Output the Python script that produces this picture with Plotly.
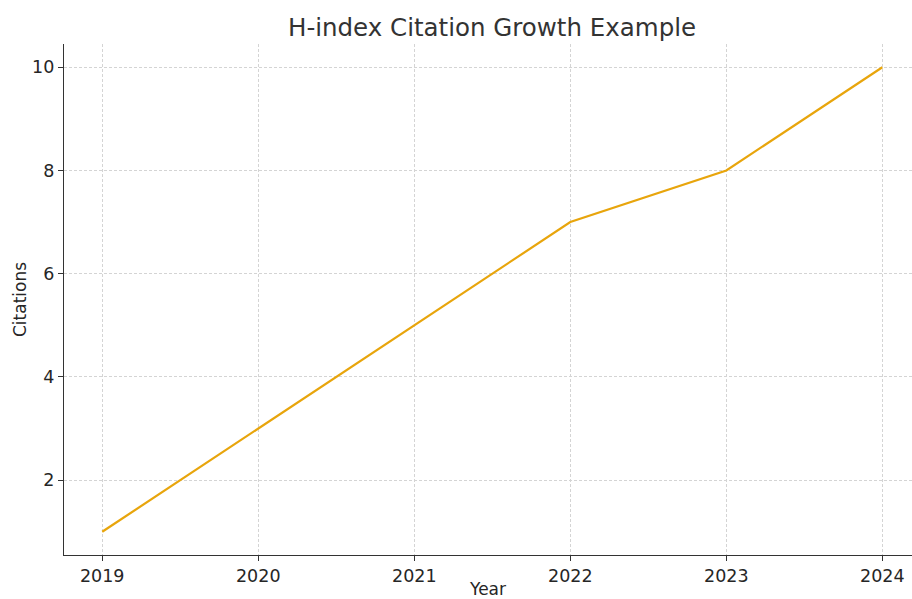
import plotly.graph_objects as go

years = [2019, 2020, 2021, 2022, 2023, 2024]
citations = [1, 3, 5, 7, 8, 10]
y_ticks = [2, 4, 6, 8, 10]

fig = go.Figure()
fig.add_trace(go.Scatter(x=years, y=citations, mode="lines",
                         line=dict(color="#E8A50C", width=2.2)))

font_family = "DejaVu Sans"
fig.update_layout(
    width=912, height=599,
    margin=dict(l=64, r=0, t=44, b=44),
    paper_bgcolor="white", plot_bgcolor="white",
    showlegend=False,
    title=dict(text="H-index Citation Growth Example", x=0.5395, xanchor="center",
               y=0.955, yanchor="middle",
               font=dict(family=font_family, size=24.5, color="#333333")),
    font=dict(family=font_family, color="#262626"),
)
grid = dict(showgrid=True, gridcolor="#d4d4d4", griddash="3px,2px", gridwidth=0.8,
            showline=True, linecolor="#333333", linewidth=1.3,
            ticks="outside", ticklen=5, tickcolor="#333333", tickwidth=1,
            zeroline=False, tickfont=dict(size=17.5), automargin=False)
fig.update_xaxes(
    range=[2018.755, 2024.19], tickvals=years, ticktext=[str(y) for y in years],
    title=dict(text="Year", font=dict(size=17), standoff=7), **grid)
fig.update_yaxes(
    range=[0.55, 10.45], tickvals=y_ticks,
    title=dict(text="Citations", font=dict(size=17), standoff=1), **grid)
fig.write_html("out.html", config={"displayModeBar": False})

with open("out.html", encoding="utf-8") as f:
    html = f.read()
html = html.replace("<body>", "<body style=\"margin:0;padding:0;\">", 1)
with open("out.html", "w", encoding="utf-8") as f:
    f.write(html)
